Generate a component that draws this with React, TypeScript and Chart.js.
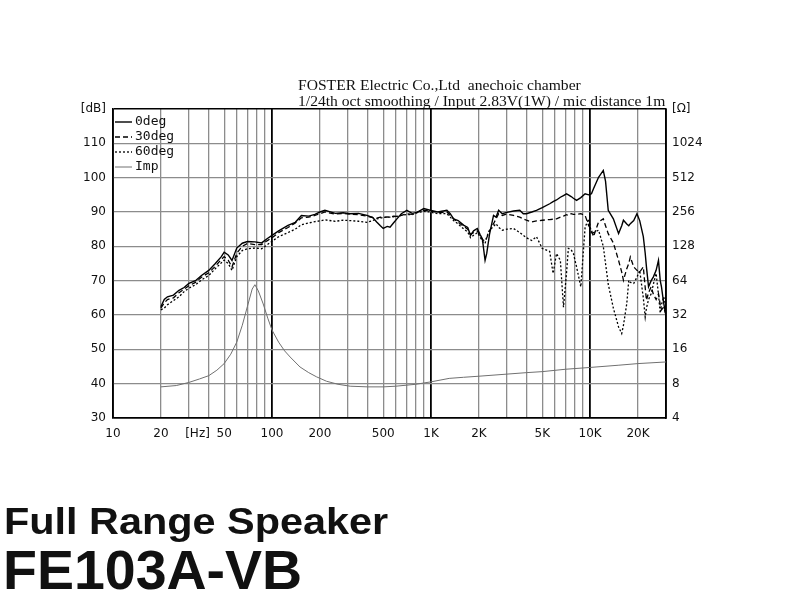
import React, { useEffect, useRef } from "react";
import { Chart, registerables } from "chart.js";

Chart.register(...registerables);

// Frequency points (Hz) for the SPL curves
const FREQ_SPL = [
  20, 21, 22, 24, 26, 28, 30, 33, 36, 40, 44, 48, 50, 53, 56, 60, 65, 70, 78, 86,
  93, 100, 110, 126, 140, 153, 170, 186, 200, 215, 250, 280, 309, 350, 395, 430,
  455, 480, 500, 530, 552, 580, 610, 650, 704, 760, 815, 900, 985, 1100, 1257,
  1320, 1386, 1480, 1608, 1700, 1770, 1850, 1952, 2030, 2100, 2185, 2240, 2330,
  2470, 2560, 2660, 2800, 3000, 3300, 3610, 3800, 3980, 4300,
  4600, 5000, 5570, 5850, 6150, 6500, 6800, 7100, 7300, 7600, 7850, 8220, 8740,
  9300, 9800, 10200, 10500, 11300, 12100, 12500, 13000, 14000, 15100, 15800,
  16200, 17000, 17500, 17900, 18800, 19700, 20500, 21600, 22200, 22600, 23300,
  24200, 25000, 26000, 26900, 27600, 28100, 29000, 29800,
];

// 0deg SPL (dB)
const SPL_0 = [
  62.4, 64.5, 65.3, 65.8, 67.2, 68.0, 69.2, 70.0, 71.5, 73.0, 75.0, 77.0, 78.3, 77.5, 75.9, 79.5, 80.9, 81.4, 81.3, 81.0,
  82.2, 83.2, 84.5, 86.1, 87.0, 89.0, 88.8, 89.3, 90.0, 90.5, 89.6, 89.8, 89.5, 89.6, 89.0, 88.4,
  87.1, 86.0, 85.2, 85.8, 85.6, 86.8, 88.0, 89.5, 90.5, 89.6, 89.9, 91.0, 90.5, 90.0, 90.5,
  89.5, 88.0, 87.5, 86.1, 85.5, 83.2, 84.5, 85.2, 83.5, 82.2, 75.9, 78.0, 83.5,
  89.0, 88.5, 90.5, 89.5, 89.9, 90.3, 90.5, 89.5, 89.5, 90.0,
  90.5, 91.3, 92.4, 93.0, 93.5, 94.3, 94.8, 95.3, 95.0, 94.5, 94.0, 93.4, 94.2,
  95.3, 95.0, 95.3, 96.8, 100.1, 102.1, 99.0, 90.5, 88.0, 83.7, 86.0,
  87.6, 86.5, 86.0, 86.6, 87.5, 89.5, 87.5, 82.8, 78.0, 74.0, 68.2,
  70.0, 71.1, 73.0, 75.9, 70.0, 68.2, 63.5, 60.5,
];

// 30deg SPL (dB)
const SPL_30 = [
  62.0, 63.5, 64.5, 65.0, 66.5, 67.5, 68.5, 69.5, 71.0, 72.3, 74.2, 76.2, 77.0, 76.0, 74.0, 78.0, 80.0, 80.8, 80.5, 80.5,
  81.6, 82.5, 84.0, 85.5, 86.8, 88.3, 88.5, 89.0, 89.5, 90.0, 89.4, 89.6, 89.4, 89.2, 88.8, 88.4,
  88.2, 88.5, 88.4, 88.6, 88.5, 88.8, 88.7, 89.0, 89.5, 89.3, 89.9, 90.5, 90.3, 89.8, 90.0,
  89.0, 88.0, 87.0, 85.8, 85.0, 83.5, 84.0, 84.5, 83.0, 82.0, 81.5, 82.5, 84.5,
  86.6, 88.0, 89.5, 89.0, 89.4, 89.0, 88.5, 88.0, 87.6, 87.1,
  87.4, 87.6, 87.8, 87.9, 88.0, 88.5, 88.8, 89.2, 89.0, 89.5, 89.3, 89.3, 89.5,
  89.0, 86.0, 84.7, 82.8, 87.1, 88.0, 86.0, 83.7, 81.0, 75.9, 72.5,
  70.1, 73.5, 75.0, 76.9, 74.0, 73.0, 72.5, 74.0, 68.0, 64.3, 66.5,
  68.2, 66.0, 64.5, 66.2, 63.0, 61.5, 62.3, 60.5,
];

// 60deg SPL (dB)
const SPL_60 = [
  61.5, 62.0, 63.0, 64.2, 65.3, 66.8, 67.8, 68.8, 70.2, 71.5, 73.5, 75.2, 76.0, 75.0, 73.0, 77.0, 78.8, 79.3, 79.5, 79.3,
  80.4, 81.5, 82.8, 84.0, 85.0, 86.3, 86.8, 87.2, 87.4, 87.7, 87.3, 87.6, 87.5, 87.3, 87.0, 87.5,
  88.0, 88.2, 88.4, 88.5, 88.5, 88.6, 88.7, 89.0, 89.3, 89.2, 89.8, 90.2, 90.0, 89.5, 89.5,
  88.5, 87.5, 86.5, 85.0, 84.2, 82.5, 83.2, 84.0, 82.8, 81.5, 80.8, 82.8, 84.7,
  85.8, 86.6, 85.5, 84.7, 85.0, 85.2, 84.0, 83.2, 82.5, 81.7,
  82.8, 79.4, 78.5, 72.1, 77.9, 75.9, 62.3, 72.0, 79.4, 79.0, 77.9, 74.0, 68.2,
  85.6, 88.0, 83.7, 84.0, 84.7, 80.0, 75.0, 69.0, 62.0, 56.5, 54.6,
  57.0, 63.3, 70.1, 69.5, 69.2, 71.0, 73.0, 65.0, 59.4, 62.0, 64.5,
  66.2, 69.0, 72.1, 66.0, 60.5, 63.0, 65.3, 63.0,
];

// Impedance curve
const FREQ_IMP = [
  20, 25, 30, 35, 40, 45, 50, 55, 60, 65, 70, 75, 78, 82, 88, 94, 100, 110, 120,
  130, 150, 170, 190, 220, 260, 310, 400, 500, 600, 800, 1000, 1300, 1600, 2000,
  3000, 4000, 5000, 7000, 10000, 15000, 20000, 30000,
];
const IMP_OHM = [
  7.5, 7.7, 8.2, 8.8, 9.4, 10.5, 12.0, 14.5, 18.5, 26, 38, 54, 59, 52, 40, 30, 23.6, 18.5, 15.5,
  13.7, 11.2, 10.0, 9.2, 8.4, 7.9, 7.6, 7.5, 7.5, 7.6, 7.9, 8.3, 8.9, 9.1, 9.3,
  9.7, 10.0, 10.2, 10.7, 11.1, 11.6, 12.0, 12.4,
];

const SERIES_LABELS = ["0deg", "30deg", "60deg", "Imp"];

// Axis ticks
const X_TICK_VALUES = [
  10, 20, 30, 34, 40, 50, 60, 70, 80, 90,
  100, 200, 300, 400, 500, 600, 700, 800, 900,
  1000, 2000, 3000, 4000, 5000, 6000, 7000, 8000, 9000,
  10000, 20000, 30000,
];
const X_LABEL_VALUES = [10, 20, 34, 50, 100, 200, 500, 1000, 2000, 5000, 10000, 20000];
const X_LABEL_TEXT = ["10", "20", "[Hz]", "50", "100", "200", "500", "1K", "2K", "5K", "10K", "20K"];
const DB_TICKS = [30, 40, 50, 60, 70, 80, 90, 100, 110, 120];
const DB_LABELS = ["30", "40", "50", "60", "70", "80", "90", "100", "110", "[dB]"];
const OHM_TICKS = [4, 8, 16, 32, 64, 128, 256, 512, 1024, 2048];
const OHM_LABELS = ["4", "8", "16", "32", "64", "128", "256", "512", "1024", "[Ω]"];

const DECADES = [10, 100, 1000, 10000, 30000];
const TICK_FONT = { family: "DejaVu Sans", size: 12 };

const legendPlugin = {
  id: "innerLegend",
  afterDatasetsDraw(chart: any) {
    const { ctx, chartArea } = chart;
    const x0 = chartArea.left + 2;
    const y0 = chartArea.top + 13;
    ctx.save();
    ctx.font = "13px 'DejaVu Sans Mono'";
    ctx.textBaseline = "middle";
    chart.data.datasets.forEach((ds: any, i: number) => {
      const y = y0 + i * 15;
      ctx.beginPath();
      ctx.setLineDash(ds.borderDash || []);
      ctx.strokeStyle = ds.borderColor;
      ctx.lineWidth = ds.borderWidth;
      ctx.moveTo(x0, y);
      ctx.lineTo(x0 + 17, y);
      ctx.stroke();
      ctx.setLineDash([]);
      ctx.fillStyle = "#111";
      ctx.fillText(ds.label, x0 + 20, y);
    });
    ctx.restore();
  },
};

export default function App() {
  const ref = useRef<HTMLCanvasElement | null>(null);

  useEffect(() => {
    if (!ref.current) return;
    const toXY = (xs: number[], ys: number[]) => xs.map((x, i) => ({ x, y: ys[i] }));
    const chart = new Chart(ref.current, {
      type: "line",
      data: {
        datasets: [
          { label: SERIES_LABELS[0], data: toXY(FREQ_SPL, SPL_0), borderColor: "#000", borderWidth: 1.4, pointRadius: 0, yAxisID: "y" },
          { label: SERIES_LABELS[1], data: toXY(FREQ_SPL, SPL_30), borderColor: "#000", borderWidth: 1.3, borderDash: [5, 3], pointRadius: 0, yAxisID: "y" },
          { label: SERIES_LABELS[2], data: toXY(FREQ_SPL, SPL_60), borderColor: "#000", borderWidth: 1.3, borderDash: [2, 2], pointRadius: 0, yAxisID: "y" },
          { label: SERIES_LABELS[3], data: toXY(FREQ_IMP, IMP_OHM), borderColor: "#707070", borderWidth: 1, pointRadius: 0, yAxisID: "y2" },
        ],
      },
      options: {
        animation: false,
        responsive: false,
        maintainAspectRatio: false,
        layout: { padding: { top: 109, left: 0, right: 0, bottom: 0 } },
        plugins: { legend: { display: false }, tooltip: { enabled: false }, title: { display: false } },
        elements: { line: { tension: 0 } },
        scales: {
          x: {
            type: "logarithmic",
            min: 10,
            max: 30000,
            afterBuildTicks: (scale: any) => {
              scale.ticks = X_TICK_VALUES.map((v) => ({ value: v }));
            },
            afterFit: (scale: any) => {
              scale.height = 182;
            },
            ticks: {
              autoSkip: false,
              maxRotation: 0,
              padding: 9,
              color: "#111",
              font: TICK_FONT,
              callback: (v: any) => {
                const i = X_LABEL_VALUES.indexOf(Number(v));
                return i >= 0 ? X_LABEL_TEXT[i] : "";
              },
            },
            grid: {
              drawTicks: false,
              color: (c: any) => {
                const v = c.tick?.value;
                if (v === 34) return "rgba(0,0,0,0)";
                return DECADES.includes(v) ? "#000" : "#8c8c8c";
              },
              lineWidth: (c: any) => (DECADES.includes(c.tick?.value) ? 1.8 : 1.3),
            },
            border: { display: true, color: "#000", width: 1.6 },
          },
          y: {
            type: "linear",
            position: "left",
            min: 30,
            max: 120,
            afterBuildTicks: (scale: any) => {
              scale.ticks = DB_TICKS.map((v) => ({ value: v }));
            },
            afterFit: (scale: any) => {
              scale.width = 113;
            },
            ticks: {
              padding: 7,
              color: "#111",
              font: TICK_FONT,
              callback: (v: any) => {
                const i = DB_TICKS.indexOf(Number(v));
                return i >= 0 ? DB_LABELS[i] : "";
              },
            },
            grid: {
              drawTicks: false,
              color: (c: any) => (c.tick?.value === 30 || c.tick?.value === 120 ? "#000" : "#8c8c8c"),
              lineWidth: (c: any) => (c.tick?.value === 30 || c.tick?.value === 120 ? 1.6 : 1.3),
            },
            border: { display: true, color: "#000", width: 1.6 },
          },
          y2: {
            type: "logarithmic",
            position: "right",
            min: 4,
            max: 2048,
            afterBuildTicks: (scale: any) => {
              scale.ticks = OHM_TICKS.map((v) => ({ value: v }));
            },
            afterFit: (scale: any) => {
              scale.width = 134;
            },
            ticks: {
              padding: 6,
              color: "#111",
              font: TICK_FONT,
              callback: (v: any) => {
                const i = OHM_TICKS.indexOf(Number(v));
                return i >= 0 ? OHM_LABELS[i] : "";
              },
            },
            grid: { display: false, drawTicks: false },
            border: { display: true, color: "#000", width: 1.6 },
          },
        },
      },
      plugins: [legendPlugin],
    });
    return () => chart.destroy();
  }, []);

  const headerStyle: React.CSSProperties = {
    position: "absolute",
    left: 298,
    fontFamily: "'Liberation Serif', 'Times New Roman', serif",
    fontSize: 15.6,
    lineHeight: "16px",
    color: "#111",
    whiteSpace: "pre",
  };

  return (
    <div style={{ position: "fixed", left: 0, top: 0, width: 800, height: 600, background: "#fff", overflow: "hidden" }}>
      <canvas ref={ref} width={800} height={600} style={{ position: "absolute", left: 0, top: 0 }} />
      <div style={{ ...headerStyle, top: 77 }}>FOSTER Electric Co.,Ltd  anechoic chamber</div>
      <div style={{ ...headerStyle, top: 93 }}>1/24th oct smoothing / Input 2.83V(1W) / mic distance 1m</div>
      <div
        style={{
          position: "absolute",
          left: 4,
          top: 502,
          fontFamily: "'Liberation Sans', Arial, sans-serif",
          fontWeight: "bold",
          fontSize: 36,
          lineHeight: "40px",
          color: "#111",
          whiteSpace: "pre",
          transformOrigin: "left top",
          transform: "scaleX(1.15)",
        }}
      >
        Full Range Speaker
      </div>
      <div
        style={{
          position: "absolute",
          left: 3,
          top: 540,
          fontFamily: "'Liberation Sans', Arial, sans-serif",
          fontWeight: "bold",
          fontSize: 55.5,
          lineHeight: "60px",
          color: "#111",
          whiteSpace: "pre",
        }}
      >
        FE103A-VB
      </div>
    </div>
  );
}
